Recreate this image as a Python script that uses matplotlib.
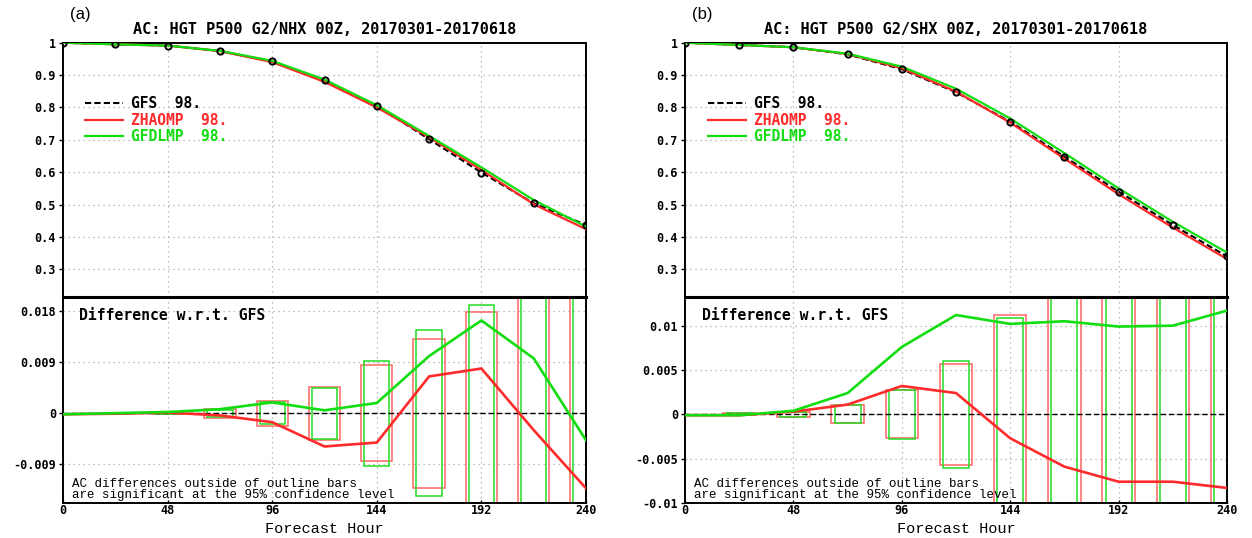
import matplotlib.pyplot as plt
from matplotlib.lines import Line2D

# forecast hours (every 24 h) and the hours that carry a confidence bar
hours = [0, 24, 48, 72, 96, 120, 144, 168, 192, 216, 240]
bar_hours = hours[1:]

# (a) Northern hemisphere
nhx_gfs = [1.000, 0.995, 0.991, 0.974, 0.942, 0.885, 0.805, 0.702, 0.599, 0.504, 0.437]
nhx_zhao = [1.000, 0.995, 0.991, 0.974, 0.940, 0.879, 0.800, 0.708, 0.607, 0.501, 0.424]
nhx_gfdl = [1.000, 0.995, 0.991, 0.975, 0.944, 0.886, 0.807, 0.712, 0.615, 0.514, 0.432]
nhx_dzhao = [-0.0002, -0.0001, 0.0001, -0.0004, -0.0016, -0.0059, -0.0052, 0.0065, 0.0079, -0.0030, -0.0133]
nhx_dgfdl = [-0.0002, 0.0000, 0.0002, 0.0007, 0.0019, 0.0005, 0.0018, 0.0101, 0.0164, 0.0097, -0.0048]
nhx_ci_zhao = [0.0001, 0.0002, 0.0008, 0.0022, 0.0047, 0.0085, 0.0132, 0.0179, 0.03, 0.03]
nhx_ci_gfdl = [0.0001, 0.0002, 0.0006, 0.0019, 0.0045, 0.0093, 0.0147, 0.0192, 0.03, 0.03]

# (b) Southern hemisphere
shx_gfs = [1.000, 0.993, 0.986, 0.964, 0.918, 0.847, 0.756, 0.648, 0.540, 0.437, 0.340]
shx_zhao = [1.000, 0.993, 0.986, 0.965, 0.921, 0.849, 0.753, 0.642, 0.532, 0.429, 0.332]
shx_gfdl = [1.000, 0.993, 0.986, 0.966, 0.926, 0.858, 0.766, 0.659, 0.550, 0.447, 0.352]
shx_dzhao = [-0.0001, -0.0001, 0.0003, 0.0011, 0.0032, 0.0024, -0.0027, -0.0059, -0.0076, -0.0076, -0.0083]
shx_dgfdl = [-0.0001, -0.0001, 0.0004, 0.0024, 0.0076, 0.0112, 0.0102, 0.0105, 0.0099, 0.0100, 0.0117]
shx_ci_zhao = [0.0001, 0.0003, 0.0010, 0.0027, 0.0057, 0.0112, 0.03, 0.03, 0.03, 0.03]
shx_ci_gfdl = [0.0001, 0.0003, 0.0010, 0.0028, 0.0060, 0.0109, 0.03, 0.03, 0.03, 0.03]

names = ['GFS', 'ZHAOMP', 'GFDLMP']
scores = ['98.', '98.', '98.']

top_ticks = [1.0, 0.9, 0.8, 0.7, 0.6, 0.5, 0.4, 0.3]
top_labels = ['1', '0.9', '0.8', '0.7', '0.6', '0.5', '0.4', '0.3']
x_ticks = [0, 48, 96, 144, 192, 240]

nhx_dticks = [0.018, 0.009, 0, -0.009]
nhx_dlabels = ['0.018', '0.009', '0', '-0.009']
shx_dticks = [0.01, 0.005, 0, -0.005, -0.01]
shx_dlabels = ['0.01', '0.005', '0', '-0.005', '-0.01']

RED = '#ff2b2b'
GREEN = '#11dd11'
RED_BAR = '#ff6666'
GREEN_BAR = '#22dd22'
BOLD = dict(family='DejaVu Sans Mono', weight='bold')
THIN = dict(family='Liberation Mono')
W, H = 1252.0, 538.0

fig = plt.figure(figsize=(W/100, H/100), dpi=100)


def grid(ax):
	ax.grid(True, color='#aaaaaa', linestyle=(0, (1, 3)), linewidth=0.9)
	ax.set_axisbelow(True)
	for s in ax.spines.values():
		s.set_linewidth(1.4)
	ax.tick_params(axis='y', direction='out', length=3, width=1, pad=2)
	ax.tick_params(axis='x', direction='in', length=2, width=1, pad=1)
	for lab in ax.get_yticklabels() + ax.get_xticklabels():
		lab.set_fontproperties(dict(BOLD, size=8.5))


def panel(x0, x1, tag, title, gfs, zhao, gfdl, dz, dg, ciz, cig, dlim, dticks, dlabels):
	top, mid, bot = 42.7, 297.3, 503.0
	ax1 = fig.add_axes([x0/W, 1-mid/H, (x1-x0)/W, (mid-top)/H])
	ax2 = fig.add_axes([x0/W, 1-bot/H, (x1-x0)/W, (bot-mid)/H])

	# --- anomaly correlation
	ax1.plot(hours, gfs, color='k', lw=1.5, ls=(0, (3, 1.5)), zorder=2)
	ax1.plot(hours, zhao, color=RED, lw=1.6, zorder=3)
	ax1.plot(hours, gfdl, color=GREEN, lw=1.6, zorder=4)
	ax1.plot(hours, gfs, ls='', marker='o', ms=4.5, mfc='none', mec='k', mew=1.4, zorder=5)
	ax1.set_xlim(0, 240)
	ax1.set_ylim(0.2136, 1.0)
	ax1.set_xticks(x_ticks)
	ax1.set_xticklabels([])
	ax1.set_yticks(top_ticks)
	ax1.set_yticklabels(top_labels)
	grid(ax1)
	ax1.tick_params(axis='x', length=0)
	ax1.spines['bottom'].set_visible(False)

	handles = [Line2D([], [], color='k', lw=1.5, ls=(0, (3, 1.5))),
		Line2D([], [], color=RED, lw=1.6),
		Line2D([], [], color=GREEN, lw=1.6)]
	labels = [n + '  ' + s for n, s in zip(names, scores)]
	ax1.legend(handles, labels, loc='upper left', bbox_to_anchor=(0.043, 0.79),
		frameon=False, borderpad=0, borderaxespad=0, handlelength=2.6,
		handletextpad=0.5, labelspacing=0.1, prop=dict(BOLD, size=10.5),
		labelcolor=['k', RED, GREEN])

	ax1.text(0.5, 1 + 13.4/(mid-top), title, transform=ax1.transAxes,
		ha='center', va='center', fontsize=11, **BOLD)
	fig.text((x0+17)/W, 1-15/H, tag, ha='center', va='center', fontsize=12,
		family='Liberation Sans')

	# --- differences w.r.t. GFS
	ax2.bar(bar_hours, [2*c for c in ciz], bottom=[-c for c in ciz], width=14.4,
		fill=False, edgecolor=RED_BAR, lw=1.1, zorder=2)
	ax2.bar(bar_hours, [2*c for c in cig], bottom=[-c for c in cig], width=11.6,
		fill=False, edgecolor=GREEN_BAR, lw=1.1, zorder=2)
	ax2.axhline(0, color='k', lw=1, ls=(0, (4, 2)), zorder=3)
	ax2.plot(hours, dz, color=RED, lw=1.9, zorder=4)
	ax2.plot(hours, dg, color=GREEN, lw=1.9, zorder=4)
	ax2.set_xlim(0, 240)
	ax2.set_ylim(*dlim)
	ax2.set_xticks(x_ticks)
	ax2.set_xticklabels([str(t) for t in x_ticks])
	ax2.set_yticks(dticks)
	ax2.set_yticklabels(dlabels)
	grid(ax2)
	ax2.spines['top'].set_linewidth(2.2)
	fig.text((x0+x1)/2/W, 1-529/H, 'Forecast Hour', ha='center', va='center',
		fontsize=11, **THIN)

	ax2.text(0.031, 0.91, 'Difference w.r.t. GFS', transform=ax2.transAxes,
		ha='left', va='center', fontsize=10.6, **BOLD)
	ax2.text(0.017, 0.094, 'AC differences outside of outline bars',
		transform=ax2.transAxes, ha='left', va='center', fontsize=9, **THIN)
	ax2.text(0.017, 0.037, 'are significant at the 95% confidence level',
		transform=ax2.transAxes, ha='left', va='center', fontsize=9, **THIN)


panel(63, 586, '(a)', 'AC: HGT P500 G2/NHX 00Z, 20170301-20170618',
	nhx_gfs, nhx_zhao, nhx_gfdl, nhx_dzhao, nhx_dgfdl, nhx_ci_zhao, nhx_ci_gfdl,
	(-0.0159, 0.0205), nhx_dticks, nhx_dlabels)
panel(685, 1227, '(b)', 'AC: HGT P500 G2/SHX 00Z, 20170301-20170618',
	shx_gfs, shx_zhao, shx_gfdl, shx_dzhao, shx_dgfdl, shx_ci_zhao, shx_ci_gfdl,
	(-0.01, 0.0132), shx_dticks, shx_dlabels)

plt.savefig('out.png', dpi=100)
